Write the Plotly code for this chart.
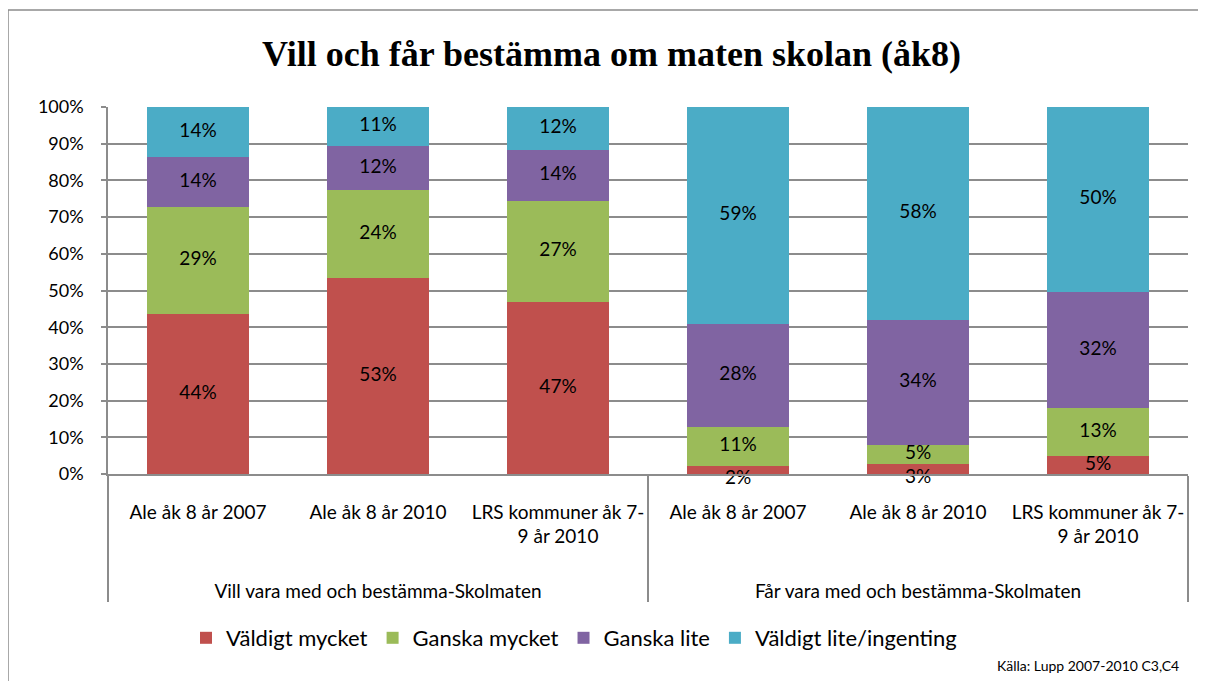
import plotly.graph_objects as go

# ---- data ----
groups = ["Vill vara med och bestämma-Skolmaten"] * 3 + ["Får vara med och bestämma-Skolmaten"] * 3
categories = ["Ale åk 8 år 2007", "Ale åk 8 år 2010", "LRS kommuner åk 7-<br>9 år 2010"] * 2

series_names = ["Väldigt mycket", "Ganska mycket", "Ganska lite", "Väldigt lite/ingenting"]
valdigt_mycket = [43.7, 53.3, 47.0, 2.1, 2.6, 4.8]
ganska_mycket = [29.0, 24.1, 27.4, 10.8, 5.3, 13.2]
ganska_lite = [13.7, 11.9, 14.0, 27.9, 34.0, 31.7]
valdigt_lite = [13.6, 10.7, 11.6, 59.2, 58.1, 50.3]
series_values = [valdigt_mycket, ganska_mycket, ganska_lite, valdigt_lite]
colors = ["#C0504D", "#9BBB59", "#8064A2", "#4BACC6"]

y_ticks = list(range(0, 101, 10))
y_labels = [f"{v}%" for v in y_ticks]

FONT = "Lato"
GRID = "#8C8C8C"
x = [["<br><br>" + g for g in groups], categories]

fig = go.Figure()
for name, vals, col in zip(series_names, series_values, colors):
    fig.add_trace(go.Bar(
        x=x, y=vals, name=name, marker=dict(color=col, line=dict(width=0)),
        hoverinfo="skip",
    ))

# data labels (centered in each segment, very small ones placed just below)
lx0, lx1, ly, lt, lp = [], [], [], [], []
base = [0.0] * len(categories)
for vals in series_values:
    for i, v in enumerate(vals):
        lx0.append(x[0][i])
        lx1.append(categories[i])
        ly.append(base[i] + v / 2)
        lp.append("bottom center" if v < 3 else "middle center")
        lt.append(f"{int(v + 0.5)}%")
        base[i] += v
fig.add_trace(go.Scatter(
    x=[lx0, lx1], y=ly, text=lt, mode="text", textposition=lp,
    textfont=dict(family=FONT, size=19, color="#000000"),
    cliponaxis=False, showlegend=False, hoverinfo="skip",
))

# page offset (browser body margin) compensation
OFF = 8
W, H = 1206 - OFF, 681 - OFF
L, R, T, B = 100, 18, 99, 207
pw, ph = W - L - R, H - T - B

def px_x(p):
    return (p - OFF - L) / pw

def px_y(p):
    return (H - B - (p - OFF)) / ph

fig.update_layout(
    width=W, height=H,
    margin=dict(l=L, r=R, t=T, b=B, autoexpand=False),
    barmode="stack", bargap=0.433,
    plot_bgcolor="white", paper_bgcolor="white",
    font=dict(family=FONT, size=19, color="#000000"),
    title=dict(text="<b>Vill och får bestämma om maten skolan (åk8)</b>",
               font=dict(family="Liberation Serif", size=36, color="#000000"),
               x=(611.5 - OFF) / W, xref="container", xanchor="center",
               y=1 - (53 - OFF) / H, yref="container", yanchor="middle"),
    legend=dict(orientation="h", x=px_x(574), xanchor="center", y=px_y(638), yanchor="middle",
                font=dict(family=FONT, size=22), traceorder="normal", itemclick=False),
    showlegend=True,
)
fig.update_yaxes(
    range=[0, 100], tickvals=y_ticks, ticktext=y_labels,
    showgrid=True, gridcolor=GRID, gridwidth=1.5,
    showline=True, linecolor=GRID, linewidth=1.5,
    ticks="outside", ticklen=5, tickcolor=GRID, tickwidth=1.5,
    tickfont=dict(family=FONT, size=18), zeroline=False,
    ticklabelstandoff=14,
)
fig.update_xaxes(
    type="multicategory",
    showline=True, linecolor=GRID, linewidth=1.5,
    showdividers=True, dividercolor=GRID, dividerwidth=1.5,
    tickfont=dict(family=FONT, size=19), ticks="", tickangle=0,
    ticklabelstandoff=20,
)

# outer chart border
fig.add_shape(type="rect", xref="paper", yref="paper",
              x0=px_x(8), x1=px_x(1200), y0=px_y(720), y1=px_y(10),
              line=dict(color=GRID, width=1.5), fillcolor="rgba(0,0,0,0)", layer="below")

fig.add_annotation(text="Källa: Lupp 2007-2010 C3,C4", xref="paper", yref="paper",
                   x=px_x(1181), y=px_y(665), xanchor="right", yanchor="middle",
                   showarrow=False, font=dict(family=FONT, size=14, color="#000000"))

fig.write_html("out.html")
